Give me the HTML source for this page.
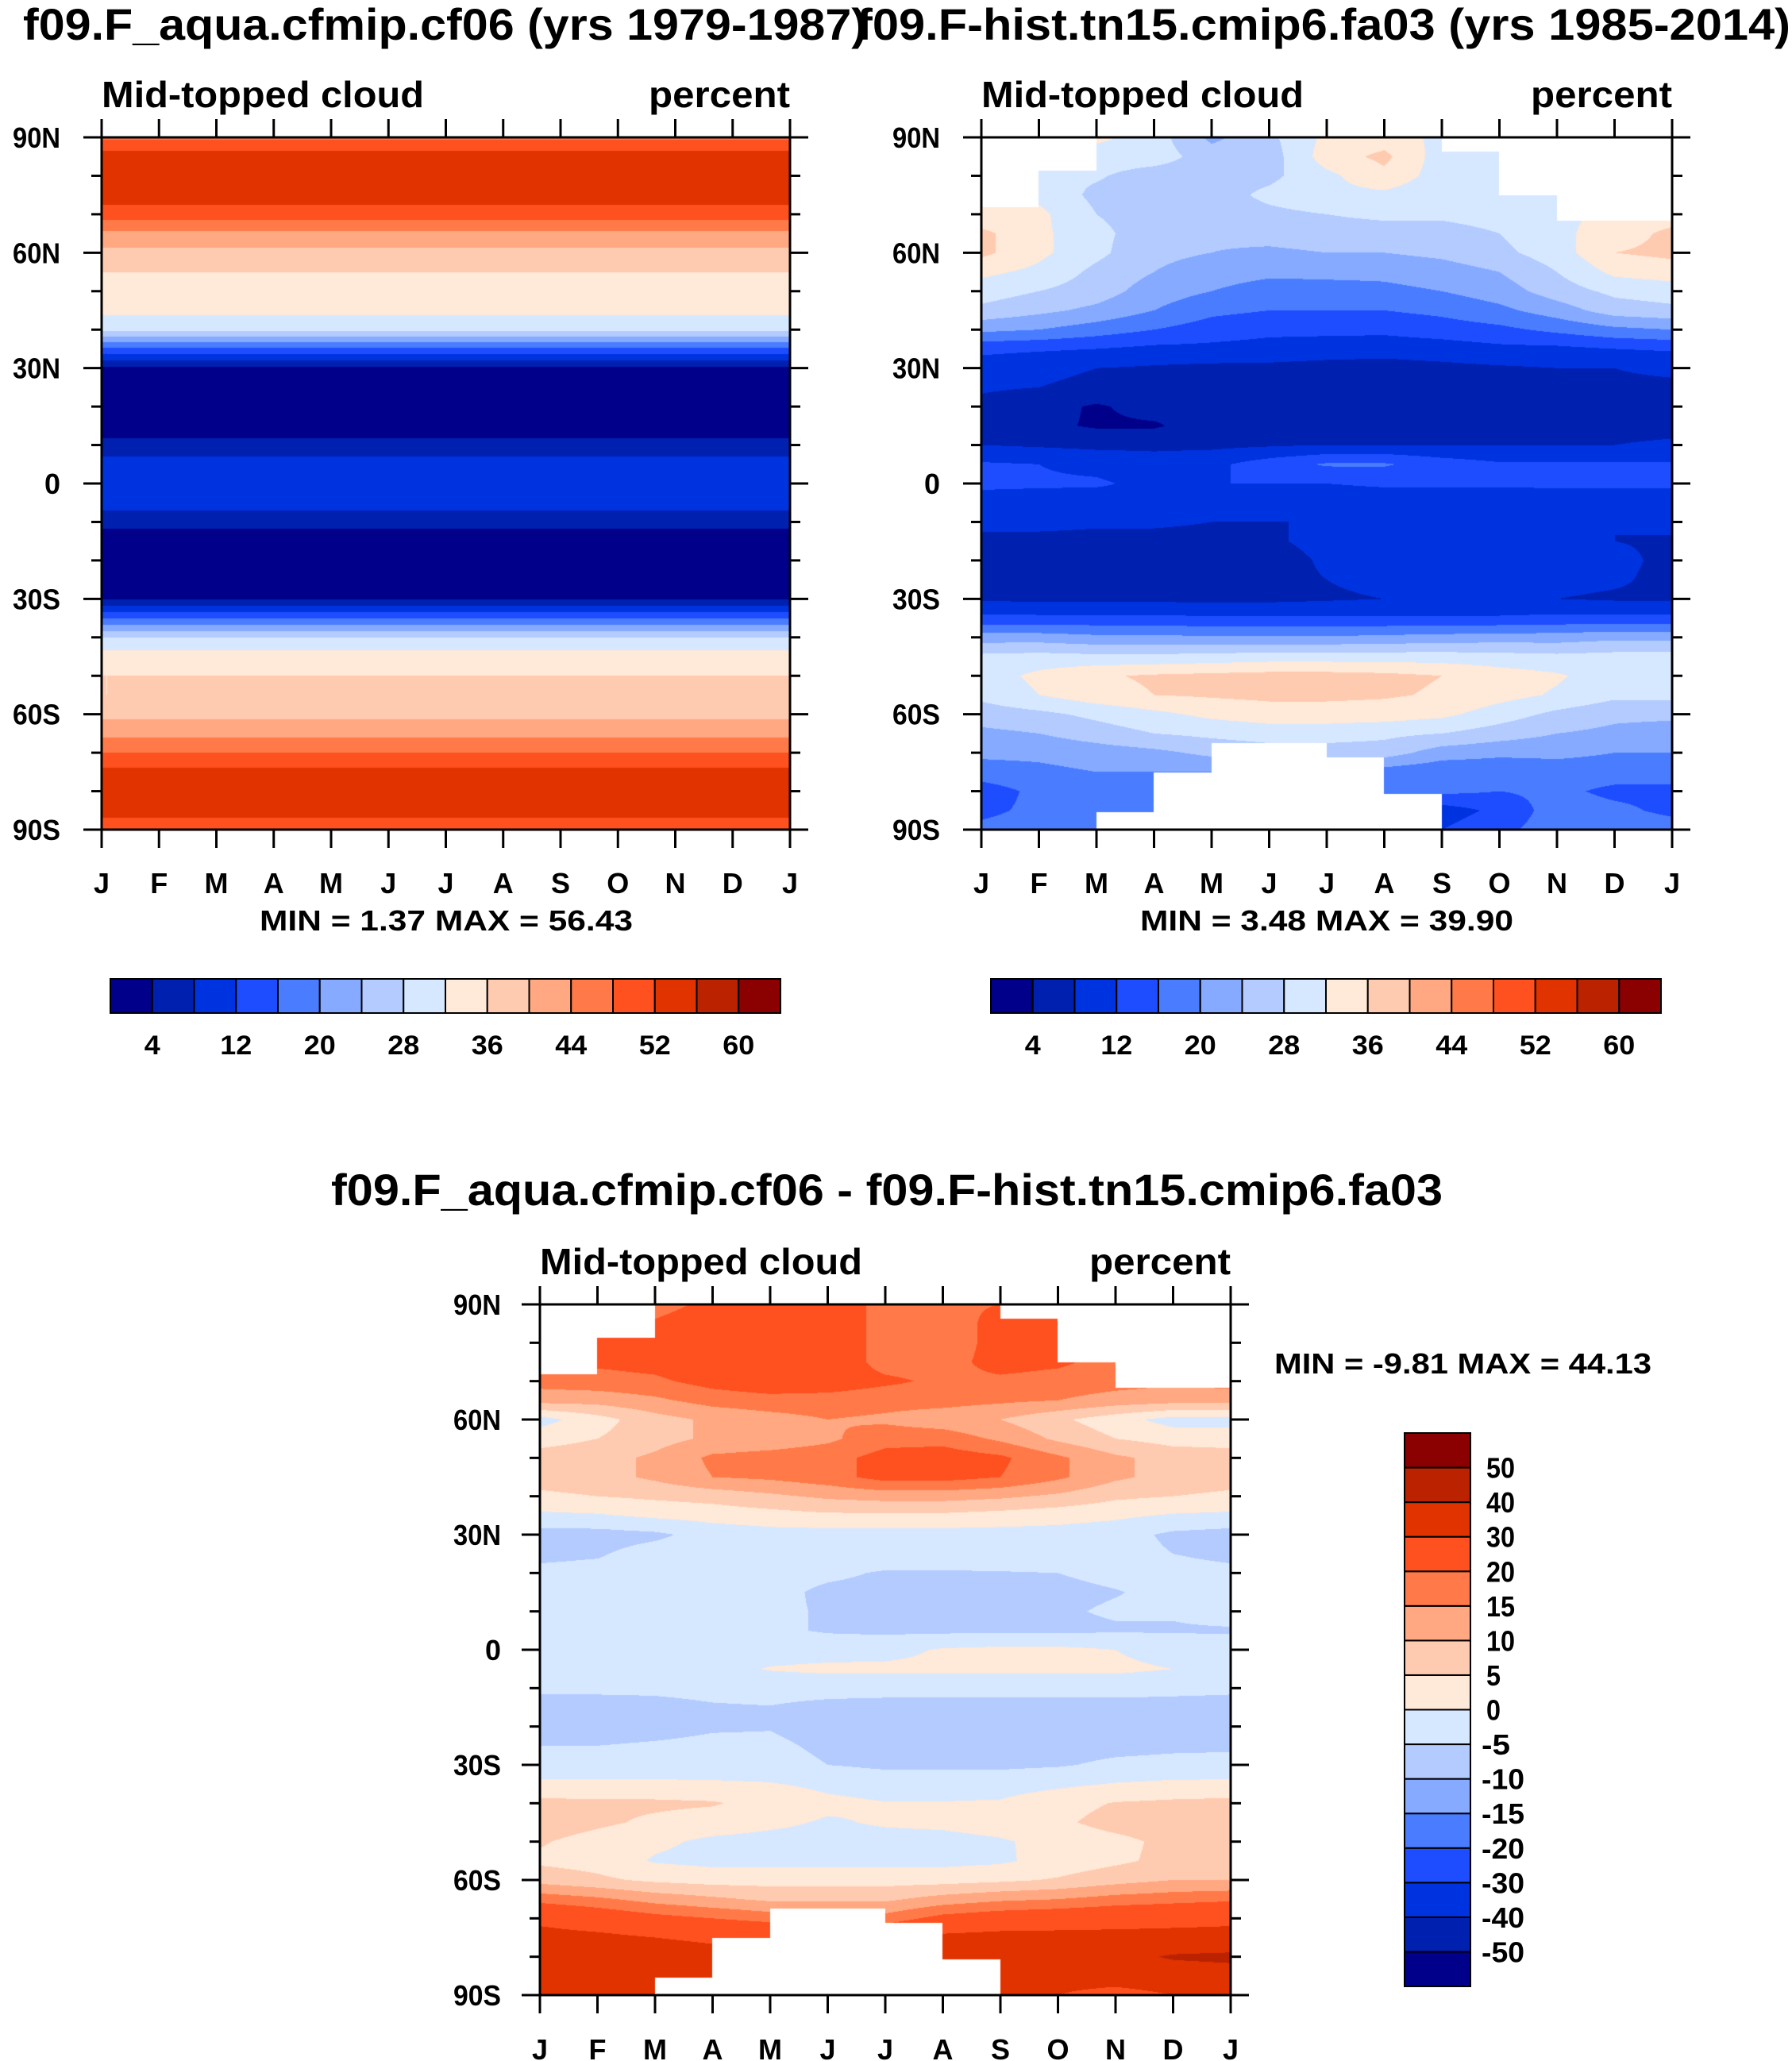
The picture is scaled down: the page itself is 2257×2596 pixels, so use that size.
<!DOCTYPE html>
<html><head><meta charset="utf-8"><title>Mid-topped cloud</title>
<style>
html,body{margin:0;padding:0;background:#fff;}
#wrap{position:relative;width:2257px;height:2596px;overflow:hidden;background:#fff;}
canvas{position:absolute;}
svg{position:absolute;left:0;top:0;}
text{font-family:"Liberation Sans",sans-serif;font-weight:bold;fill:#000;}
</style></head>
<body>
<div id="wrap">
<canvas id="c1"></canvas>
<canvas id="c2"></canvas>
<canvas id="c3"></canvas>
<svg id="svg" width="2257" height="2596"></svg>
</div>
<script>
// ---- data ----
const monthLabels=['J','F','M','A','M','J','J','A','S','O','N','D','J'];
const latLabels=['90N','60N','30N','0','30S','60S','90S'];
const lats=[90,85,80,75,70,65,60,55,50,45,40,35,30,25,20,15,10,5,0,-5,-10,-15,-20,-25,-30,-35,-40,-45,-50,-55,-60,-65,-70,-75,-80,-85,-90];
// aqua-planet zonal profile (percent), per latitude
const aquaProfile=[47,54,55,54,50,43,39,36,35,33,29,15,3,2,1.8,2,5,10,11,10,5,2,1.6,2,3.5,16,28,34,36,36,39,43,48,53,55,54,49];
// historical field (percent), rows = lats, cols = months J..J
const histGrid=[
[33,33,33,30,23,27,33,34,31,30,30,33,33],
[33,33,30,30,26,26,34,37,30,29,30,33,33],
[31,29,28.5,26,26,27,31,35,30,28,30,31,31],
[33,31,27,26,26,29,31,31,29,28,31,33,33],
[33,33,28,26,26,27,28,28.5,28.5,29,31,33,34],
[37,33,29,26,25,26,27,27,27,28,31,34,37],
[37,33,29,25,24,23,24,24,25,27,30,36,37],
[33,31,27,24,22,21,21,21,22,24,28,33,34],
[30,28,26,22,20,18,18.5,19,20,22,26,29,30],
[27,25,23,20,17,16,16,16,17,19,22,26,27],
[21,20,18,16,14,13,13,13,14,15,17,19,20],
[13,12.5,12,11,11,10.5,10,9.5,10,11,11,12,12.5],
[10,9,8,7.5,7,7,6.5,6.5,7,7.5,8,8,8.5],
[8.5,8,7,6.5,6,6,5.5,6,6,6.5,7,7.5,7.5],
[7,5.5,3.5,5.5,6,6,6,6,6,6,6.5,6.5,7],
[6,5,3.5,3.5,6,6,6.5,6.5,6.5,6.5,7,7,7],
[8,7.5,7,7,7,7.5,8,8,8,8,8,8,8.5],
[12.5,12,11,10,11,14,16.5,16.5,14,12.5,12.5,12.5,12.5],
[12.5,12.5,12.5,11,12,12,12,12.5,12.5,12.5,12.5,12.5,12.5],
[11,10.5,10,11,10.5,10,10,10,10,10,10.5,10.5,10.5],
[9,9,8.5,8.5,8,8,8,8.5,10,9.5,8,8,9],
[7,7,7,7,7,7.5,9,9,9,9,9,8,7.5],
[6,6,6,6,6,6.5,8.5,9,9,9,9,9,7],
[6,6,6,6,6.5,7,8,9,9.5,9.5,9,8.5,7],
[7.5,7,7,7,7,7,7.5,8,8.5,8.5,8,7.5,7.5],
[13,13,13,13,12.5,12.5,12.5,12.5,12.5,12.5,13,13,13],
[22,22,21,21,20.5,20.5,20.5,21,21.5,22,22,23,23],
[29,29.5,29,29,29.5,30,30,30,30,29.5,29,29.5,29.5],
[30,33,35.5,36.5,37,37.5,37.5,37,36,34,32.5,30,29.5],
[29,32,34.5,36,36.5,37,37,36.5,35.5,33.5,31.5,29,29],
[26,27,29,31,33,34,34,34,33,30,27,25,25],
[23,24,26,28,29,30,30,29,28,26,24,23,22],
[21,21,22,23,25,26,26,26,22,21,21,20,20],
[18,19,20,20,20,20,20,18,17,17,18,18,18],
[14,17,19,19,19,19,19,18,17,16,17,15,15],
[15,17,17,17,17,17,17,14,10,13,18,17,15],
[17,18,18,18,18,18,18,15,12,15,18,19,18]
];
// difference field (aqua - hist), rows = lats, cols = months J..J
const diffGrid=[
[15,15,17,22,24,24,18,19,20,20,15,15,15],
[15,18,21,25,26,24,18,17,22,22,18,16,16],
[16,21,22,25,26,24,18,17,22,22,18,16,16],
[16,21,22,25,26,24,18,18,22,21,18,16,16],
[17,18,19,22,24,23,21,19,19,18,17,16,17],
[12,12,14,17,18,18,17,17,16,15,13,12,12],
[-2,3,8,11,13,15,14,12,10,6,2,-2,-2],
[3,5,8,11,12,14,18,18,14,9,5,3,3],
[7,8,11,16,17,18,22,23,21,16,11,8,7],
[7,8,11,15,16,18,22,22,20,16,11,8,7],
[4,5,6,7,9,11,12,12,11,9,6,5,4],
[-1,-0.5,1,2,3,4,4,4,3,2,1,-0.5,-1],
[-7,-7,-6,-3,-2,-2,-2,-2,-2,-2,-3,-6,-7],
[-6,-5.5,-3,-2,-2,-2,-2,-2,-2,-2,-3,-5,-6],
[-4,-3.5,-3,-3,-3,-4,-5.5,-5.5,-5.3,-5,-4,-3.5,-4],
[-3,-3,-3,-3,-3.5,-6,-6.5,-6.5,-6,-6,-5.2,-4,-3],
[-3,-3,-3,-3,-4,-5.5,-6.5,-6.5,-6,-5.5,-4.5,-4.5,-3],
[-4.5,-3,-3,-3,-4,-5.5,-6,-6,-6,-6,-5.5,-5.5,-5.5],
[-3,-3,-3,-2.5,-2,-2,-1.5,0.5,1.2,1.2,0,-2,-2.5],
[-2.5,-2,-2,-1.5,0.3,1,1,1,1,1,1,0,-2],
[-4,-4,-4,-3.5,-3,-3,-3,-3,-3,-3,-3,-3.5,-4],
[-7,-7,-6.5,-5.5,-5.2,-6.5,-7,-7,-7,-7,-7,-7,-7],
[-7,-7,-6.5,-5.5,-5.3,-7,-7.5,-7.5,-7.5,-7.5,-7,-7,-7],
[-5,-5,-4.5,-4,-4,-6,-7,-7,-7,-7,-6.5,-6,-6],
[-3,-3,-3,-3,-3,-5,-6,-6,-6,-5.5,-4,-3.5,-3],
[1,1,1,0.8,0.3,-1,-2,-2,-2,-1,0.3,1,1],
[6.5,6,6,5.5,3,1,0.2,0.2,0.5,3,5.3,6,6.5],
[8,6,4,2.5,1,-0.5,0.5,1,2,4,7,8,8],
[5.5,3,1,-1,-1.5,-1.5,-1.5,-1.5,-0.5,1.5,3.5,6.5,7],
[4,3,-0.5,-1.5,-1.5,-1.5,-1.5,-1.5,-0.8,2,4,6.5,7],
[8,6,4,3,3,3,3,3,4,5.5,8,10,10],
[18,16,13,11,9,9,9,12,14,15,17,18,19],
[28,25,22,20,18,17,17,22,24,25,26,27,28],
[33,32,30,29,28,28,28,32,33,33,33,33,33],
[40,38,33,32,32,32,32,34,36,35,37,41,42],
[35,32,31,31,31,31,31,32,33,33,34,35,36],
[31,31,31,31,31,31,31,33,36,30,27,30,31]
];
// missing-data limits per month interval
const northCut=[71.8,81.3,90,90,90,90,90,90,86.2,74.9,68.3,68.3];
const southCut=[-90,-90,-85.4,-75.1,-67.4,-67.4,-71.2,-80.7,-90,-90,-90,-90];
const levels12=[4,8,12,16,20,24,28,32,36,40,44,48,52,56,60];
const levelsDiff=[-50,-40,-30,-20,-15,-10,-5,0,5,10,15,20,30,40,50];
const cbLabels12=['4','12','20','28','36','44','52','60'];
const cbLabelsDiff=['50','40','30','20','15','10','5','0','-5','-10','-15','-20','-30','-40','-50'];
const colors=['#00008a','#0020b0','#0033e0','#1e4dff','#4a7cff','#85aaff','#b3cbff','#d6e8ff','#ffe9d8','#ffcbb0','#ffa882','#ff7a48','#ff5020','#e03300','#bb2200','#8b0000'];
const stats1='MIN =   1.37 MAX =  56.43';
const stats2='MIN =   3.48 MAX =  39.90';
const stats3='MIN =  -9.81 MAX =  44.13';

const NS='http://www.w3.org/2000/svg';
const svg=document.getElementById('svg');
function mk(tag,attrs,parent){const e=document.createElementNS(NS,tag);for(const k in attrs)e.setAttribute(k,attrs[k]);(parent||svg).appendChild(e);return e;}
function txt(s,x,y,size,anchor,len,name,parent){
  const t=mk('text',{x:x,y:y,'font-size':size,'text-anchor':anchor||'start'},parent);
  if(len){t.setAttribute('textLength',len);t.setAttribute('lengthAdjust','spacingAndGlyphs');}
  t.textContent=s;
  
  
  return t;
}
function hexRGB(h){return [parseInt(h.slice(1,3),16),parseInt(h.slice(3,5),16),parseInt(h.slice(5,7),16)];}
const rgb=colors.map(hexRGB);

function interp(grid,m,lat){
  let r=(90-lat)/5; let r0=Math.min(Math.floor(r),lats.length-2); let fr=r-r0;
  let c0=Math.min(Math.floor(m),11); let fc=m-c0;
  const a=grid(r0,c0),b=grid(r0,c0+1),c=grid(r0+1,c0),d=grid(r0+1,c0+1);
  return (a*(1-fc)+b*fc)*(1-fr)+(c*(1-fc)+d*fc)*fr;
}
const g1=(r,c)=>aquaProfile[r];
const g2=(r,c)=>histGrid[r][c];
const g3=(r,c)=>diffGrid[r][c];
function levelIndex(v,lv){let i=0;while(i<lv.length&&v>=lv[i])i++;return i;}

function drawField(id,x0,y0,w,h,grid,lv,masked){
  const cv=document.getElementById(id);
  cv.width=w;cv.height=h;cv.style.left=x0+'px';cv.style.top=y0+'px';
  const ctx=cv.getContext('2d');const img=ctx.createImageData(w,h);const D=img.data;
  for(let py=0;py<h;py++){
    const lat=90-(py+0.5)/h*180;
    for(let px=0;px<w;px++){
      const m=(px+0.5)/w*12;const iv=Math.min(Math.floor(m),11);
      const k=(py*w+px)*4;
      if(masked&&(lat>northCut[iv]||lat<southCut[iv])){D[k]=D[k+1]=D[k+2]=255;D[k+3]=255;continue;}
      const col=rgb[levelIndex(interp(grid,m,lat),lv)];
      D[k]=col[0];D[k+1]=col[1];D[k+2]=col[2];D[k+3]=255;
    }
  }
  ctx.putImageData(img,0,0);
}

function axes(x0,y0,w,h,prefix,labSize,labRight,xlabY){
  const g=mk('g',{});
  
  
  mk('rect',{x:x0,y:y0,width:w,height:h,fill:'none',stroke:'#000','stroke-width':3},g);
  for(let i=0;i<13;i++){
    const x=x0+i*w/12;
    mk('line',{x1:x,x2:x,y1:y0,y2:y0-23,stroke:'#000','stroke-width':3},g);
    mk('line',{x1:x,x2:x,y1:y0+h,y2:y0+h+23,stroke:'#000','stroke-width':3},g);
    txt(monthLabels[i],x,xlabY,labSize,'middle',null,prefix+'-x-tick-label',g);
  }
  for(let j=0;j<=18;j++){
    const y=y0+j*h/18;const major=j%3===0;const L=major?23:13;
    mk('line',{x1:x0,x2:x0-L,y1:y,y2:y,stroke:'#000','stroke-width':3},g);
    mk('line',{x1:x0+w,x2:x0+w+L,y1:y,y2:y,stroke:'#000','stroke-width':3},g);
    if(major){const s=latLabels[j/3];txt(s,labRight,y+13,labSize,'end',s.length*20,prefix+'-y-tick-label',g);}
  }
}

// panel geometry
const P1={x:128,y:173,w:867,h:872};
const P2={x:1236,y:173,w:870,h:872};
const P3={x:680,y:1643,w:870,h:870};
drawField('c1',P1.x,P1.y,P1.w,P1.h,g1,levels12,false);
drawField('c2',P2.x,P2.y,P2.w,P2.h,g2,levels12,true);
drawField('c3',P3.x,P3.y,P3.w,P3.h,g3,levelsDiff,true);

// titles
txt('f09.F_aqua.cfmip.cf06 (yrs 1979-1987)',29,50,56,'start',1063,'left-panel-title');
txt('f09.F-hist.tn15.cmip6.fa03 (yrs 1985-2014)',1079,50,56,'start',1176,'right-panel-title');
txt('f09.F_aqua.cfmip.cf06 - f09.F-hist.tn15.cmip6.fa03',417,1518,56,'start',1400,'difference-panel-title');

[[P1,'left'],[P2,'right'],[P3,'diff']].forEach(([P,n])=>{
  txt('Mid-topped cloud',P.x,P.y-38,46,'start',406,n+'-variable-label');
  txt('percent',P.x+P.w,P.y-38,46,'end',178,n+'-units-label');
});
axes(P1.x,P1.y,P1.w,P1.h,'left',36,76,1125);
axes(P2.x,P2.y,P2.w,P2.h,'right',36,1184,1125);
axes(P3.x,P3.y,P3.w,P3.h,'diff',36,631,2594);

txt(stats1,327,1172,36,'start',470,'left-min-max');
txt(stats2,1436,1172,36,'start',470,'right-min-max');
txt(stats3,1605,1730,36,'start',475,'diff-min-max');

// horizontal colorbars
function hbar(x0,y0,w,h,name){
  const g=mk('g',{});
  
  
  const bw=w/colors.length;
  colors.forEach((c,i)=>{mk('rect',{x:x0+i*bw,y:y0,width:bw,height:h,fill:c,stroke:'#000','stroke-width':2},g);});
  mk('rect',{x:x0,y:y0,width:w,height:h,fill:'none',stroke:'#000','stroke-width':2},g);
  let li=0;
  levels12.forEach((v,k)=>{if(k%2===0){const s=cbLabels12[li++];txt(s,x0+(k+1)*bw,y0+h+52,34,'middle',s.length*20,name+'-label',g);}});
}
hbar(139,1233,844,43,'left-colorbar');
hbar(1248,1233,844,43,'right-colorbar');

// vertical colorbar
(function(){
  const x0=1769,y0=1805,w=83,h=697;
  const g=mk('g',{});
  
  
  const bh=h/colors.length;
  colors.forEach((c,i)=>{mk('rect',{x:x0,y:y0+h-(i+1)*bh,width:w,height:bh,fill:c,stroke:'#000','stroke-width':2},g);});
  mk('rect',{x:x0,y:y0,width:w,height:h,fill:'none',stroke:'#000','stroke-width':2},g);
  cbLabelsDiff.forEach((s,k)=>{
    const y=y0+(k+1)*bh;
    const x=s[0]==='-'?1866:1872;
    txt(s,x,y+13,36,'start',s.length*18,'diff-colorbar-label',g);
  });
})();
</script>
</body></html>
